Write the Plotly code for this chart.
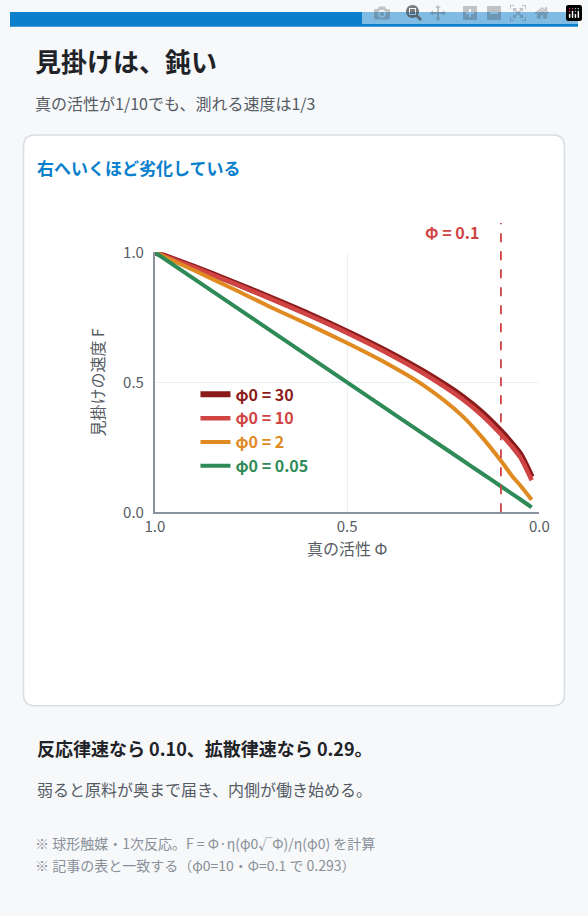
import plotly.graph_objects as go

W, H = 588, 916
phi = [1.0, 0.9, 0.8, 0.7, 0.6, 0.5, 0.4, 0.3, 0.2, 0.15, 0.1, 0.07, 0.05, 0.02]
F30 = [1.0, 0.945, 0.887, 0.826, 0.763, 0.695, 0.622, 0.54, 0.445, 0.385, 0.312, 0.262, 0.225, 0.136]
F10 = [1.0, 0.943, 0.884, 0.822, 0.758, 0.69, 0.616, 0.533, 0.435, 0.374, 0.30, 0.25, 0.212, 0.123]
F2 = [1.0, 0.932, 0.862, 0.79, 0.722, 0.651, 0.575, 0.487, 0.37, 0.29, 0.198, 0.138, 0.104, 0.048]
F005 = [1.0, 0.9, 0.8, 0.7, 0.6, 0.5, 0.4, 0.3, 0.2, 0.15, 0.1, 0.07, 0.05, 0.019]
series = [("30", F30, "#8b1a1a", 6), ("10", F10, "#d04444", 4.5), ("2", F2, "#e08a22", 4), ("0.05", F005, "#2e8b57", 4)]

FONT = "Noto Sans CJK JP"
def px(x): return x / W
def py(y): return 1 - y / H

fig = go.Figure()
for name, vals, col, w in series:
    fig.add_trace(go.Scatter(x=phi, y=vals, mode="lines", line=dict(color=col, width=w, shape="spline", smoothing=0.8),
                             name=f"<b><span style='color:{col}'>φ0 = {name}</span></b>"))

shapes = [
    dict(type="rect", xref="paper", yref="paper", x0=0, x1=1, y0=py(15), y1=1, fillcolor="#0a7fcc", line_width=0, layer="below"),
    dict(type="path", xref="paper", yref="paper", layer="below",
         path=f"M {px(26)} {py(126)} L {px(562)} {py(126)} Q {px(574)} {py(126)} {px(574)} {py(138)} L {px(574)} {py(698)} Q {px(574)} {py(710)} {px(562)} {py(710)} L {px(26)} {py(710)} Q {px(14)} {py(710)} {px(14)} {py(698)} L {px(14)} {py(138)} Q {px(14)} {py(126)} {px(26)} {py(126)} Z",
         fillcolor="white", line=dict(color="#d8dde3", width=1.5)),
    dict(type="line", xref="x", yref="paper", x0=0.1, x1=0.1, y0=py(512), y1=py(216), line=dict(color="#d04444", width=1.8, dash="dash")),
]

def ann(x, y, text, size, color, bold=False):
    return dict(xref="paper", yref="paper", x=px(x), y=py(y), xanchor="left", yanchor="middle", showarrow=False,
                text=f"<b>{text}</b>" if bold else text, font=dict(size=size, color=color, family=FONT))

anns = [
    ann(24, 50, "見掛けは、鈍い", 26, "#1f2328", True),
    ann(24, 93, "真の活性が1/10でも、測れる速度は1/3", 16, "#555b63"),
    ann(26, 159, "右へいくほど劣化している", 17, "#0a7fcc", True),
    ann(428, 225, "Φ = 0.1", 16, "#d04444", True),
    ann(26, 753, "反応律速なら 0.10、拡散律速なら 0.29。", 18, "#1f2328", True),
    ann(26, 795, "弱ると原料が奥まで届き、内側が働き始める。", 16, "#555b63"),
    ann(24, 851, "※ 球形触媒・1次反応。F = Φ·η(φ0√Φ)/η(φ0) を計算", 14, "#8a9099"),
    ann(24, 873, "※ 記事の表と一致する（φ0=10・Φ=0.1 で 0.293）", 14, "#8a9099"),
]

fig.update_layout(
    width=W, height=H, margin=dict(l=0, r=0, t=0, b=0),
    paper_bgcolor="#f6f8fa", plot_bgcolor="white",
    font=dict(family=FONT, color="#555b63"),
    shapes=shapes, annotations=anns,
    legend=dict(x=px(192), y=py(374), xanchor="left", yanchor="top", bgcolor="rgba(0,0,0,0)",
                font=dict(size=16, family=FONT), itemwidth=30, tracegroupgap=0),
    xaxis=dict(domain=[px(150), px(548)], range=[1, 0], tickvals=[1, 0.5, 0], ticktext=["1.0", "0.5", "0.0"],
               showgrid=True, gridcolor="#eceff3", zeroline=False, showline=True, linecolor="#8a94a0", linewidth=2,
               tickfont=dict(size=15, color="#555b63"), title=dict(text="真の活性 Φ", font=dict(size=16, color="#555b63"), standoff=6)),
    yaxis=dict(domain=[py(512), py(246)], range=[0, 1], tickvals=[0, 0.5, 1], ticktext=["0.0", "0.5", "1.0"],
               showgrid=True, gridcolor="#eceff3", zeroline=False, showline=True, linecolor="#8a94a0", linewidth=2,
               tickfont=dict(size=15, color="#555b63"), ticks="", ticklabelstandoff=6,
               title=dict(text="見掛けの速度 F", font=dict(size=16, color="#555b63"), standoff=14)),
)
fig.write_html("out.html", post_script="document.body.style.margin='0';document.body.style.padding='0';document.documentElement.style.overflow='hidden';")
